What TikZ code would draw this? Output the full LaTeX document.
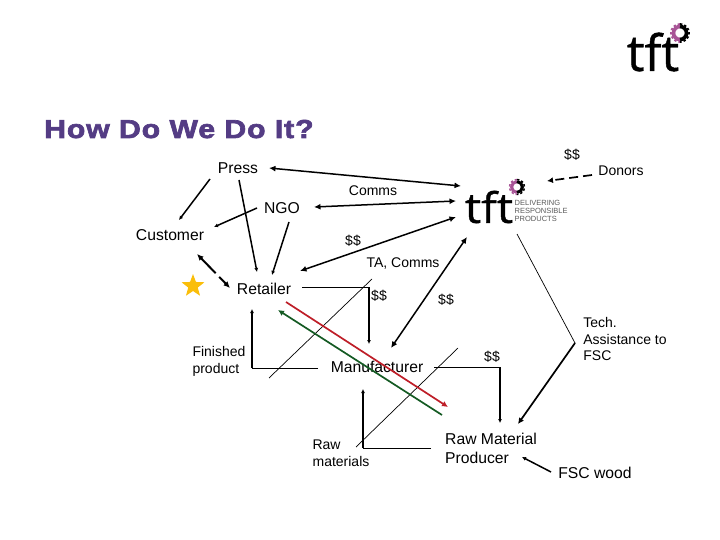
\documentclass[tikz,border=0pt]{standalone}
\usepackage{fontspec}
\usepackage{xcolor}
\usepackage{tikz}
\usetikzlibrary{shapes.geometric, arrows.meta, positioning}
\setmainfont{Liberation Sans}
\newfontfamily\titlefont[FakeStretch=1.16,FakeBold=2.6,LetterSpace=3.6]{Liberation Sans Bold}
\newfontfamily\logofont[FakeBold=0.9]{Open Sans}
\newfontfamily\widelogofont[FakeBold=0.8,FakeStretch=1.1]{Open Sans}
\definecolor{titlepurple}{RGB}{84,60,132}
\definecolor{cogpurple}{RGB}{168,84,150}
\definecolor{flowred}{RGB}{190,30,40}
\definecolor{flowgreen}{RGB}{20,90,35}
\definecolor{stargold}{RGB}{250,190,10}
\definecolor{taggray}{RGB}{90,90,90}

\begin{document}
\begin{tikzpicture}[
    x=1pt, y=-1pt,
    big/.style={align=left, font=\fontsize{15.7}{19}\selectfont},
    mid/.style={align=left, font=\fontsize{14}{16.8}\selectfont},
    thinline/.style={line width=0.7pt},
    arrow/.style={-{Latex[length=4pt,width=4pt]}, line width=1.5pt},
    both/.style={{Latex[length=6.5pt,width=6pt]}-{Latex[length=6.5pt,width=6pt]}, line width=1.5pt},
    flow/.style={-{Latex[length=6pt,width=6pt]}, line width=1.7pt},
    tftcog/.pic={
        \draw[cogpurple, line width=#1*0.4pt] (0pt,{0.72*#1*1pt}) arc[start angle=90, delta angle=180, radius=0.72*#1*1pt];
        \draw[black, line width=#1*0.4pt] (0pt,{0.72*#1*1pt}) arc[start angle=90, delta angle=-180, radius=0.72*#1*1pt];
        \draw[cogpurple, line width=#1*0.2pt, dash pattern=on 2.4pt off 2pt] (0pt,{1.0*#1*1pt}) arc[start angle=90, delta angle=180, radius=1.0*#1*1pt];
        \draw[black, line width=#1*0.2pt, dash pattern=on 2.4pt off 2pt] (0pt,{1.0*#1*1pt}) arc[start angle=90, delta angle=-180, radius=1.0*#1*1pt];
    }
]
\useasboundingbox (0,0) rectangle (720,540);

% Title and corner logo
\node[anchor=base west, inner sep=0pt, text=titlepurple, font=\titlefont\fontsize{26}{30}\selectfont] (title) at (44,138) {How Do We Do It?};
\node[inner sep=0pt, font=\logofont\fontsize{50}{50}\selectfont] (cornerlogo) at (653,52) {tft};
\pic at (680,33) {tftcog=9};

% Centre logo
\node[minimum width=120pt, minimum height=52pt, inner sep=0pt] (tftlogo) at (516,211) {};
\node[inner sep=0pt, font=\widelogofont\fontsize{42}{42}\selectfont] (tftword) at (489,207) {tft};
\node[anchor=west, inner sep=0pt, align=left, text=taggray, font=\fontsize{7.5}{8}\selectfont] (tagline) at (514.5,211) {DELIVERING\\RESPONSIBLE\\PRODUCTS};
\pic at (517,187) {tftcog=7.5};

% Actors
\node[big] (press) at (238,168) {Press};
\node[big] (ngo) at (282,208) {NGO};
\node[big] (customer) at (170,235) {Customer};
\node[big] (retailer) at (264,289) {Retailer};
\node[big] (manufacturer) at (377,367) {Manufacturer};
\node[big] (producer) at (491,448) {Raw Material\\Producer};
\node[mid] (donors) at (621,171) {Donors};
\node[mid] (finished) at (219,361) {Finished\\product};
\node[mid] (rawmat) at (341,453) {Raw\\materials};
\node[mid] (tech) at (625,339) {Tech.\\Assistance to\\FSC};
\node[big] (fscwood) at (595,473) {FSC wood};
\node[star, star points=5, star point ratio=2.4, fill=stargold, minimum size=24pt, inner sep=0pt] (star) at (193,286) {};

% Flow labels
\node[mid] (comms) at (373,191) {Comms};
\node[mid] (tacomms) at (403,264) {TA, Comms};
\node[mid] (donorpay) at (572,155) {\$\$};
\node[mid] (retailpay) at (353,241) {\$\$};
\node[mid] (mfgpay) at (379,296) {\$\$};
\node[mid] (tftpay) at (446,300) {\$\$};
\node[mid] (rawpay) at (492,357) {\$\$};

% Corners
\coordinate (retailercorner) at (369,287);
\coordinate (finishedcorner) at (252,368);
\coordinate (rawcorner) at (363,448);
\coordinate (mfgcorner) at (500,367);
\coordinate (fsccorner) at (575,343);

% Crossing strokes
\coordinate (slashatop) at (372,279);
\coordinate (slashabot) at (269,378);
\coordinate (slashbtop) at (458,348);
\coordinate (slashbbot) at (356,447);

% Arrows round the logo
\draw[both] ([shift={(31,0)}]press.center) -- ([shift={(-55,-25)}]tftlogo.center);
\draw[both] ([shift={(32,-1)}]ngo.center) -- ([shift={(-60,-10)}]tftlogo.center);
\draw[both] ([shift={(36,-18)}]retailer.center) -- ([shift={(-60,6)}]tftlogo.center);
\draw[both] ([shift={(14,-19)}]manufacturer.center) -- ([shift={(-49,26)}]tftlogo.center);
\draw[flow, dash pattern=on 9pt off 5pt] ([shift={(-29,4)}]donors.center) -- ([shift={(31,-30)}]tftlogo.center);

% Arrows among the actors
\draw[arrow] ([shift={(-28,11)}]press.center) -- ([shift={(9,-15)}]customer.center);
\draw[arrow] ([shift={(1,12)}]press.center) -- ([shift={(-7,-17)}]retailer.center);
\draw[arrow] ([shift={(-25,0)}]ngo.center) -- ([shift={(44,-8)}]customer.center);
\draw[arrow] ([shift={(7,14)}]ngo.center) -- ([shift={(8,-14)}]retailer.center);
\draw[both, line width=2pt, dash pattern=on 21pt off 5pt] ([shift={(27,19)}]customer.center) -- ([shift={(-34,-1)}]retailer.center);
\draw[arrow] ([shift={(-44,-1)}]fscwood.center) -- ([shift={(31,9)}]producer.center);

% Supply chain steps
\draw[thinline] ([shift={(38,-2)}]retailer.center) -- (retailercorner);
\draw[arrow] (retailercorner) -- ([shift={(-8,-23)}]manufacturer.center);
\draw[thinline] ([shift={(-59,1)}]manufacturer.center) -- (finishedcorner);
\draw[arrow] (finishedcorner) -- ([shift={(-12,20)}]retailer.center);
\draw[thinline] ([shift={(-60,0)}]producer.center) -- (rawcorner);
\draw[arrow] (rawcorner) -- ([shift={(-14,22)}]manufacturer.center);
\draw[thinline] ([shift={(57,0)}]manufacturer.center) -- (mfgcorner);
\draw[arrow] (mfgcorner) -- ([shift={(9,-25)}]producer.center);
\draw[thinline] ([shift={(1,23)}]tftlogo.center) -- (fsccorner);
\draw[flow] (fsccorner) -- ([shift={(27,-24)}]producer.center);
\draw[thinline] (slashabot) -- (slashatop);
\draw[thinline] (slashbbot) -- (slashbtop);

% Red and green flows
\draw[flow, flowred] ([shift={(22,13)}]retailer.center) -- ([shift={(-43,-41)}]producer.center);
\draw[flow, flowgreen] ([shift={(-49,-33)}]producer.center) -- ([shift={(14,21)}]retailer.center);

\end{tikzpicture}
\end{document}
